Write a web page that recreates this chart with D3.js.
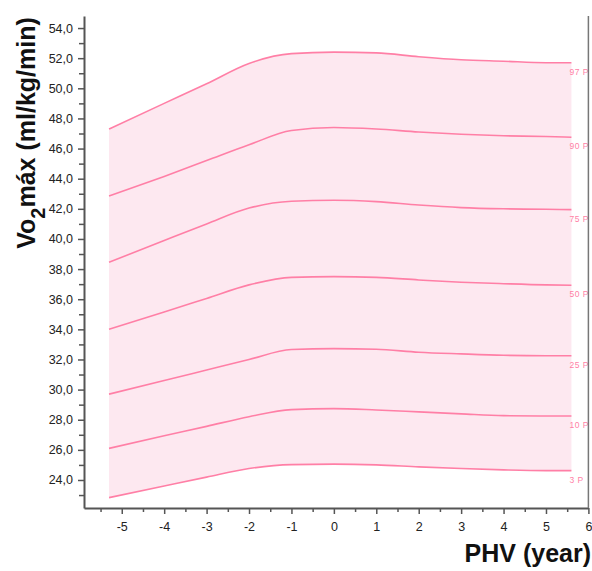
<!DOCTYPE html>
<html><head><meta charset="utf-8">
<script src="https://cdn.jsdelivr.net/npm/d3@7"></script>
<style>body{margin:0;background:#fff}svg{display:block}</style>
</head><body><svg id="c" width="592" height="571"></svg>
<script>
const xs  = [-5.3, -4, -3, -2, -1, 0, 1, 2, 3, 4, 5, 5.6];
const p97 = [47.3, 49.0, 50.3, 51.65, 52.3, 52.4, 52.35, 52.1, 51.9, 51.8, 51.7, 51.7];
const p90 = [42.85, 44.15, 45.2, 46.25, 47.2, 47.4, 47.3, 47.1, 46.95, 46.85, 46.8, 46.75];
const p75 = [38.45, 39.9, 41.0, 42.05, 42.5, 42.57, 42.48, 42.25, 42.08, 42.0, 41.97, 41.95];
const p50 = [34.0, 35.15, 36.05, 36.95, 37.45, 37.5, 37.45, 37.28, 37.13, 37.03, 36.95, 36.93];
const p25 = [29.7, 30.6, 31.3, 32.0, 32.66, 32.72, 32.68, 32.48, 32.37, 32.28, 32.25, 32.25];
const p10 = [26.1, 26.93, 27.56, 28.2, 28.67, 28.74, 28.65, 28.52, 28.39, 28.27, 28.25, 28.25];
const p3  = [22.83, 23.6, 24.19, 24.76, 25.02, 25.05, 25.0, 24.87, 24.76, 24.67, 24.62, 24.62];
const seriesNames = ["97 P", "90 P", "75 P", "50 P", "25 P", "10 P", "3 P"];
const seriesVals = [p97, p90, p75, p50, p25, p10, p3];
const yTicks = [24, 26, 28, 30, 32, 34, 36, 38, 40, 42, 44, 46, 48, 50, 52, 54];
const xTicks = [-5, -4, -3, -2, -1, 0, 1, 2, 3, 4, 5, 6];

const svg = d3.select("#c");
const x = d3.scaleLinear().domain([-5.89, 6]).range([84, 588.4]);
const y = d3.scaleLinear().domain([22.14, 54.8]).range([508, 16]);
const lineCol = "#ff7fa6", fillCol = "#fde8f0", axisCol = "#555";
const font = "'Liberation Sans', Arial, sans-serif";

// fill between 97P and 3P
const area = d3.area().x((d,i)=>x(xs[i])).y0((d,i)=>y(p3[i])).y1((d,i)=>y(p97[i])).curve(d3.curveMonotoneX);
svg.append("path").attr("d", area(xs)).attr("fill", fillCol);

const line = d3.line().x((d,i)=>x(xs[i])).y(d=>y(d)).curve(d3.curveMonotoneX);
seriesVals.forEach((vals, k) => {
  svg.append("path").attr("d", line(vals)).attr("fill","none").attr("stroke", lineCol).attr("stroke-width", 1.6);
  svg.append("text").attr("x", x(xs[xs.length-1]) - 2).attr("y", y(vals[vals.length-1]) + 12)
    .attr("font-family", font).attr("font-size", 8.5).attr("letter-spacing", 0.5).attr("fill", lineCol).text(seriesNames[k]);
});

// y axis
const yAx = svg.append("g").attr("transform","translate(84,0)")
  .call(d3.axisLeft(y).tickValues(yTicks).tickFormat(d=>d3.format(".1f")(d).replace(".",",")).tickSize(6).tickSizeOuter(0));
svg.append("g").attr("transform","translate(84,0)")
  .call(d3.axisLeft(y).tickValues(d3.range(23, 55, 2)).tickFormat("").tickSize(5).tickSizeOuter(0))
  .select(".domain").remove();
// x axis
const xAx = svg.append("g").attr("transform","translate(0,508)")
  .call(d3.axisBottom(x).tickValues(xTicks).tickFormat(d=>String(d)).tickSize(6).tickSizeOuter(0).tickPadding(8));
svg.append("g").attr("transform","translate(0,508)")
  .call(d3.axisBottom(x).tickValues(d3.range(-5.5, 6, 1)).tickFormat("").tickSize(4).tickSizeOuter(0))
  .select(".domain").remove();
svg.selectAll(".domain").attr("stroke", axisCol).attr("stroke-width", 2);
svg.selectAll(".tick line").attr("stroke", axisCol).attr("stroke-width", 1.5);
svg.selectAll(".tick text").attr("font-family", font).attr("font-size", 12.5).attr("fill", "#222");
yAx.selectAll(".tick text").attr("x", -11);
// right frame line
svg.append("line").attr("x1", 588.4).attr("x2", 588.4).attr("y1", 16).attr("y2", 508).attr("stroke", "#777").attr("stroke-width", 1.5);

// titles
svg.append("text").attr("x", 591).attr("y", 562).attr("text-anchor","end")
  .attr("font-family", font).attr("font-size", 25).attr("font-weight","bold").attr("fill","#111").text("PHV (year)");
const yt = svg.append("text").attr("transform","translate(35,133) rotate(-90)").attr("text-anchor","middle")
  .attr("font-family", font).attr("font-size", 25).attr("font-weight","bold").attr("fill","#111");
yt.append("tspan").text("Vo");
yt.append("tspan").attr("font-size", 20).attr("dy", 10).text("2");
yt.append("tspan").attr("dy", -10).text("máx (ml/kg/min)");
</script></body></html>
